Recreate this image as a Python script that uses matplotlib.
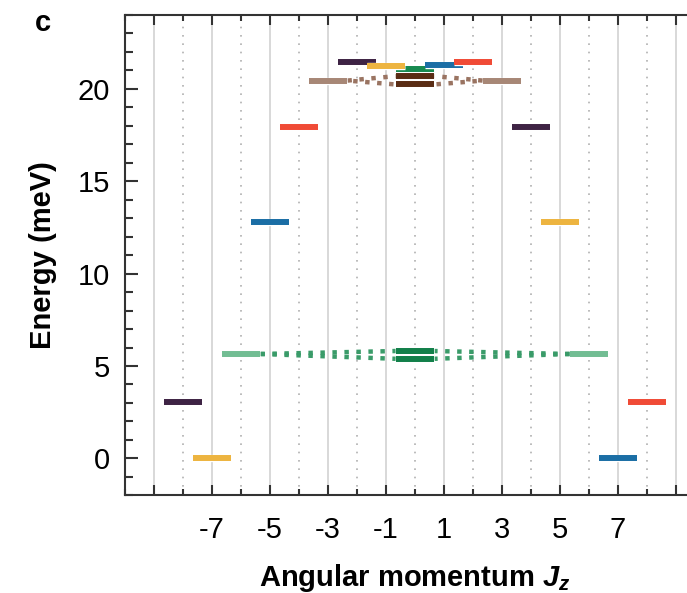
"""
energy levels vs angular momentum Jz, panel c
"""

import matplotlib
matplotlib.use('Agg')
from matplotlib import pyplot as plt
import matplotlib.patheffects as pe
import numpy as np

plt.rcParams['font.family'] = ['Liberation Sans', 'DejaVu Sans']
plt.rcParams['mathtext.fontset'] = 'custom'
plt.rcParams['mathtext.it'] = 'Liberation Sans:bold:italic'
plt.rcParams['mathtext.rm'] = 'Liberation Sans:bold'

# levels: (Jz, energy in meV, colour)
level_jz = [-7, -8, -6, 6, -5, -4, -3, 3, 0, 0, -2, 0, 0, 0, -1, 1, 2, 4, 5, 7, 8]
level_e = [0.0, 3.06, 5.65, 5.65, 12.79, 17.94, 20.45, 20.45, 5.81, 5.39,
           21.44, 21.05, 20.69, 20.24, 21.24, 21.28, 21.44, 17.94, 12.79, 0.0, 3.06]
level_col = ['#EDB440', '#3E2344', '#72BD93', '#72BD93', '#1B6EA5', '#F04B36',
             '#A78776', '#A78776', '#12804A', '#12804A',
             '#3E2344', '#178A50', '#5A2C14', '#5A2C14', '#EDB440', '#1B6EA5',
             '#F04B36', '#3E2344', '#EDB440', '#1B6EA5', '#F04B36']

# dotted connectors: from a side level to the split levels at Jz=0
conn_from_jz = [-6, -6, 6, 6, -3, -3, 3, 3]
conn_from_e = [5.65, 5.65, 5.65, 5.65, 20.45, 20.45, 20.45, 20.45]
conn_to_e = [5.81, 5.39, 5.81, 5.39, 20.69, 20.24, 20.69, 20.24]
conn_col = ['#3A9B69'] * 4 + ['#9A7462'] * 4

xticks = [-9, -7, -5, -3, -1, 1, 3, 5, 7, 9]
xlabels = ['', '-7', '-5', '-3', '-1', '1', '3', '5', '7', '']
yticks = [0, 5, 10, 15, 20]

half = 0.67

fig = plt.figure(figsize=(6.87, 5.93), dpi=100)
ax = fig.add_axes([125 / 687, 97.7 / 593, 580 / 687, 480.3 / 593])
ax.set_xlim(-10, 10)
ax.set_ylim(-2, 24)

# vertical guide lines
for j in range(-9, 10):
    if j % 2:
        ax.axvline(j, color='#d6d6d6', lw=1.3, zorder=0)
    else:
        ax.axvline(j, color='#b0b0b0', lw=1.2, ls=(0, (1, 4)), zorder=0)

# connectors
for k in range(len(conn_from_jz)):
    j0 = conn_from_jz[k]
    s = np.sign(j0)
    x0 = j0 - s * half
    x1 = s * half
    off = 0 if (k % 2 == 0 or abs(j0) > 4) else 1.4
    ax.plot([x0, x1], [conn_from_e[k], conn_to_e[k]], color=conn_col[k], lw=3.2,
            ls=(off, (1, 1.7)), dash_capstyle='butt', zorder=2)

# levels
for j, e, c in zip(level_jz, level_e, level_col):
    ax.plot([j - half, j + half], [e, e], color=c, lw=4.3, solid_capstyle='butt',
            zorder=3,
            path_effects=[pe.Stroke(linewidth=5.3, foreground='white'), pe.Normal()])

ax.set_xticks(xticks)
ax.set_xticklabels(xlabels)
ax.set_xticks(np.arange(-10, 11), minor=True)
ax.set_yticks(yticks)
ax.set_yticks(np.arange(-2, 25), minor=True)

for sp in ax.spines.values():
    sp.set_color('#333333')
    sp.set_linewidth(1.5)

ax.tick_params(axis='both', which='both', direction='in', top=True, right=True,
               color='#333333', width=1.5, labelsize=21)
ax.tick_params(axis='x', which='major', length=7, pad=15)
ax.tick_params(axis='x', which='minor', length=4)
ax.tick_params(axis='y', which='major', length=9, pad=11)
ax.tick_params(axis='y', which='minor', length=5.5)

ax.set_xlabel('Angular momentum $J_z$', fontsize=21, fontweight='bold')
ax.xaxis.label.set_va('center')
ax.xaxis.set_label_coords(0.5, -0.172)
ax.set_ylabel('Energy (meV)', fontsize=21, fontweight='bold')
ax.yaxis.label.set_va('center')
ax.yaxis.set_label_coords(-0.142, 0.5)

fig.text(43 / 687, 1 - 23 / 593, 'c', fontsize=21, fontweight='bold',
         ha='center', va='center')

fig.savefig('out.png', dpi=100)
